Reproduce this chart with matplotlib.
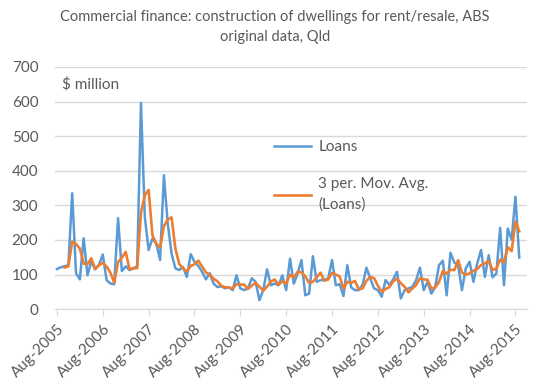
import pandas as pd
import numpy as np
import matplotlib
matplotlib.use('Agg')
import matplotlib.pyplot as plt

# Monthly loans, $ million, Aug-2005 to Sep-2015
loans = [116, 121, 124, 127, 335, 104, 86, 205, 98, 138, 115, 128,
         158, 84, 74, 72, 263, 110, 124, 113, 118, 124, 596, 267,
         171, 204, 190, 142, 387, 248, 161, 118, 113, 122, 93, 159,
         137, 125, 108, 86, 104, 74, 64, 66, 60, 63, 55, 98,
         60, 55, 60, 89, 79, 26, 55, 115, 69, 74, 69, 98,
         55, 146, 74, 103, 142, 40, 45, 153, 79, 84, 84, 89,
         142, 69, 72, 38, 127, 63, 55, 55, 70, 120, 89, 60,
         55, 36, 84, 70, 86, 108, 31, 55, 60, 64, 84, 120,
         55, 79, 45, 64, 127, 140, 40, 163, 135, 127, 55, 118,
         137, 79, 132, 171, 93, 156, 92, 103, 235, 69, 233, 201,
         325, 149]
tick_labels = ['Aug-%d' % y for y in range(2005, 2016)]
y_ticks = [0, 100, 200, 300, 400, 500, 600, 700]

df = pd.DataFrame({'Loans': loans})
df['MA3'] = df['Loans'].rolling(3).mean()
x = np.arange(len(df))

plt.rcParams.update({
    'font.family': ['Lato', 'DejaVu Sans'],
    'font.size': 10,
})
grey = '#595959'

fig = plt.figure(figsize=(5.5, 3.85), dpi=100)
ax = fig.add_axes([0.1, 0.197, 0.858, 0.629])

ax.plot(x, df['Loans'], color='#5B9BD5', lw=1.8, label='Loans')
ax.plot(x, df['MA3'], color='#ED7D31', lw=1.9, label='3 per. Mov. Avg.\n(Loans)')

ax.set_ylim(0, 700)
ax.set_yticks(y_ticks)
ax.set_xlim(-0.5, len(df) + 1)
ax.set_xticks(np.arange(0, 121, 12))
ax.set_xticklabels(tick_labels, rotation=45, ha='right', rotation_mode='anchor')
ax.grid(True, axis='y', color='#D9D9D9', lw=1)
ax.set_axisbelow(True)
for s in ['left', 'right', 'top']:
    ax.spines[s].set_visible(False)
ax.spines['bottom'].set_color('#D9D9D9')
ax.tick_params(axis='y', length=0, colors=grey, labelsize=11, pad=12)
ax.tick_params(axis='x', length=5, color='#D9D9D9', colors=grey, labelsize=11, pad=4)
for t in ax.get_xticklabels():
    t.set_color(grey)

ax.text(0.015, 0.93, '$ million', transform=ax.transAxes, color=grey,
        fontsize=11, va='center')
fig.suptitle('Commercial finance: construction of dwellings for rent/resale, ABS\noriginal data, Qld',
             color=grey, fontsize=10.5, y=0.975, linespacing=1.55)

leg = ax.legend(loc='upper left', bbox_to_anchor=(0.435, 0.755), frameon=False,
                handlelength=2.4, handletextpad=0.5, labelspacing=1.5,
                fontsize=11, labelcolor=grey)
for t in leg.get_texts():
    t.set_linespacing(1.6)

fig.savefig('out.png', dpi=100)
